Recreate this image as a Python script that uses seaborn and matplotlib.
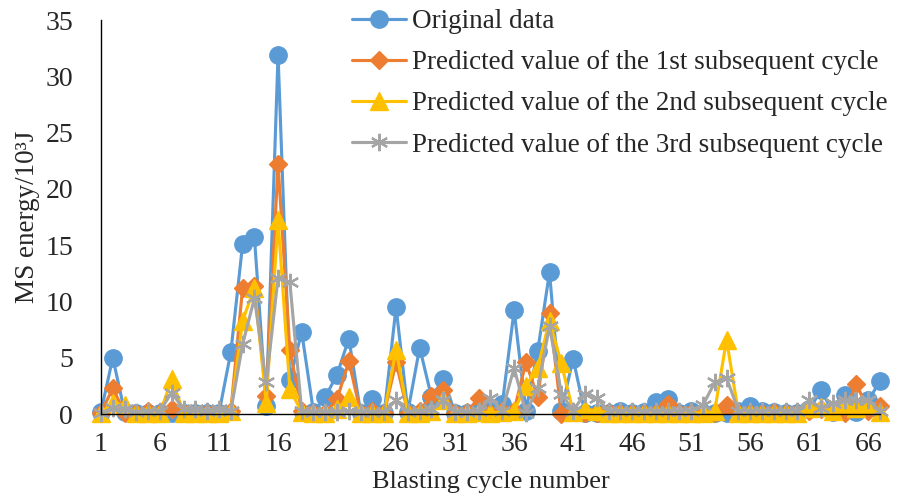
import matplotlib
matplotlib.use("Agg")
import matplotlib.pyplot as plt
import seaborn as sns
import numpy as np

cycles = list(range(1, 68))

original = [0.2, 5.0, 0.2, 0.1, 0.1, 0.1, 0.1, 0.1, 0.1, 0.1,
            0.1, 5.5, 15.1, 15.7, 0.7, 31.9, 3.0, 7.3, 0.2, 1.5,
            3.5, 6.7, 0.1, 1.3, 0.1, 9.5, 0.2, 5.9, 1.5, 3.1,
            0.1, 0.1, 0.3, 0.3, 0.9, 9.2, 0.3, 5.6, 12.6, 0.3,
            4.9, 0.1, 0.1, 0.1, 0.3, 0.1, 0.2, 1.1, 1.3, 0.1,
            0.3, 0.1, 0.1, 0.1, 0.3, 0.7, 0.3, 0.2, 0.1, 0.1,
            0.4, 2.1, 0.2, 1.7, 0.2, 1.2, 2.9]

pred1 = [0.1, 2.3, 0.1, 0.1, 0.3, 0.1, 0.4, 0.1, 0.1, 0.1,
         0.1, 0.3, 11.2, 11.4, 1.6, 22.2, 5.7, 0.3, 0.1, 0.1,
         1.3, 4.7, 0.1, 0.3, 0.1, 4.6, 0.1, 0.3, 1.6, 2.1,
         0.1, 0.2, 1.4, 0.1, 0.3, 0.3, 4.6, 1.5, 9.0, 0.0,
         0.2, 0.1, 0.1, 0.2, 0.1, 0.1, 0.1, 0.1, 0.9, 0.1,
         0.1, 0.1, 0.1, 0.8, 0.1, 0.1, 0.1, 0.2, 0.1, 0.1,
         0.3, 0.4, 0.3, 0.1, 2.7, 0.3, 0.7]

pred2 = [0.1, 1.0, 0.8, 0.1, 0.1, 0.1, 3.1, 0.1, 0.1, 0.1,
         0.1, 0.3, 8.3, 11.2, 1.0, 17.2, 2.2, 0.2, 0.1, 0.1,
         0.4, 1.5, 0.1, 0.1, 0.1, 5.7, 0.1, 0.1, 0.3, 1.2,
         0.1, 0.1, 0.2, 0.1, 0.2, 0.3, 2.5, 4.1, 8.3, 4.5,
         0.2, 0.4, 0.3, 0.1, 0.1, 0.1, 0.1, 0.1, 0.1, 0.1,
         0.1, 0.1, 0.3, 6.6, 0.1, 0.1, 0.1, 0.1, 0.1, 0.1,
         0.5, 0.6, 0.3, 0.8, 0.5, 0.8, 0.2]

pred3 = [0.1, 0.5, 0.4, 0.2, 0.3, 0.3, 1.9, 0.4, 0.4, 0.3,
         0.4, 0.3, 6.2, 10.3, 2.8, 12.1, 11.7, 0.3, 0.2, 0.2,
         0.2, 0.3, 0.2, 0.2, 0.2, 1.2, 0.2, 0.3, 0.4, 1.2,
         0.2, 0.2, 0.3, 1.4, 0.3, 4.1, 0.1, 2.3, 7.8, 1.8,
         0.3, 1.8, 1.4, 0.3, 0.3, 0.3, 0.3, 0.3, 0.3, 0.3,
         0.3, 0.8, 2.8, 3.2, 0.3, 0.3, 0.3, 0.3, 0.3, 0.3,
         1.2, 0.5, 1.0, 1.2, 1.2, 1.2, 0.3]

labels = ["Original data",
          "Predicted value of the 1st subsequent cycle",
          "Predicted value of the 2nd subsequent cycle",
          "Predicted value of the 3rd subsequent cycle"]
x_ticks = [1, 6, 11, 16, 21, 26, 31, 36, 41, 46, 51, 56, 61, 66]
y_ticks = [0, 5, 10, 15, 20, 25, 30, 35]

sns.set_style("white")
plt.rcParams['font.family'] = ['Liberation Serif', 'DejaVu Serif']

fig = plt.figure(figsize=(9.04, 4.99), dpi=100)
ax = fig.add_axes([101/904, 85/499, (880-101)/904, (414-20)/499])

series = [original, pred1, pred2, pred3]
colors = ["#5B9BD5", "#ED7D31", "#FFC000", "#A5A5A5"]
markers = ["o", "D", "^", (6, 2, 0)]
msizes = [12.5, 9.5, 12.5, 12.5]

for vals, c, m, ms, lab in zip(series, colors, markers, msizes, labels):
    sns.lineplot(x=cycles, y=vals, ax=ax, color=c, marker=m, markersize=ms,
                 markeredgecolor=c, markerfacecolor=c,
                 markeredgewidth=1.6 if m == (6, 2, 0) else 1,
                 linewidth=2.25, label=lab, clip_on=False)

ax.set_xlim(1, 67)
ax.set_ylim(0, 35)
ax.set_xticks(x_ticks)
ax.set_yticks(y_ticks)
ax.tick_params(axis='both', labelsize=20, direction='out', length=4, width=1, color='black')
ax.tick_params(axis='y', pad=16)
ax.tick_params(axis='x', pad=9)
for s in ['top', 'right']:
    ax.spines[s].set_visible(False)
for s in ['left', 'bottom']:
    ax.spines[s].set_color('black')
    ax.spines[s].set_linewidth(1)

ax.set_xlabel("Blasting cycle number", fontsize=19, labelpad=10)
ax.set_ylabel("MS energy/10³J", fontsize=19.5, labelpad=4)

leg = ax.legend(loc='upper left', bbox_to_anchor=(352/904, 1 - 9/499),
                bbox_transform=fig.transFigure, frameon=False, fontsize=19.5,
                handlelength=2.0, handletextpad=0.2, labelspacing=0.6,
                borderpad=0, borderaxespad=0)

fig.savefig("out.png", dpi=100)
